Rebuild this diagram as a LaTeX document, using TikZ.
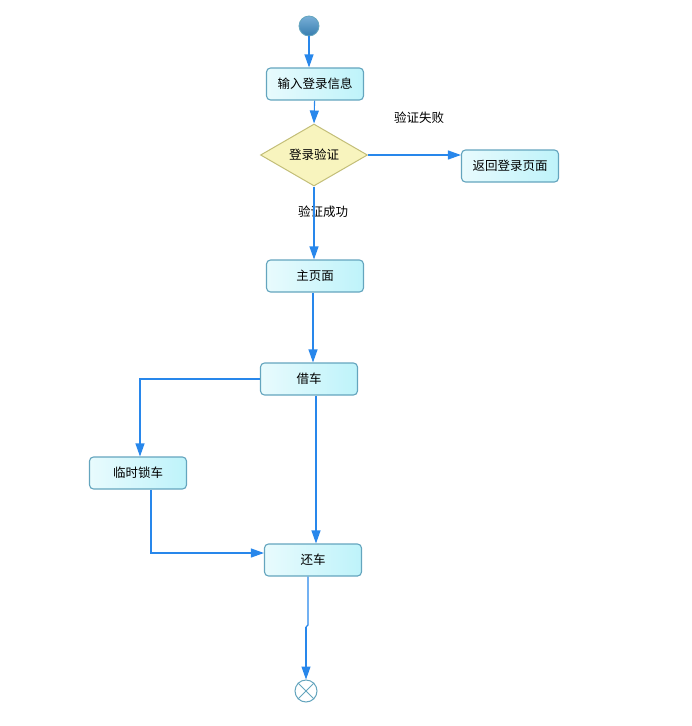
\documentclass[tikz,border=0pt]{standalone}
\usepackage{fontspec}
\setmainfont{Noto Sans CJK SC}
\usetikzlibrary{arrows.meta, shapes.geometric}

\definecolor{flowblue}{RGB}{40,135,235}
\definecolor{boxedge}{RGB}{100,165,190}
\definecolor{boxfill}{RGB}{190,243,250}
\definecolor{diaedge}{RGB}{195,190,120}
\definecolor{diafill}{RGB}{248,244,190}
\definecolor{starttop}{RGB}{120,175,215}
\definecolor{startbot}{RGB}{55,125,175}

\begin{document}
\begin{tikzpicture}[x=1pt, y=-1pt,
  every node/.style={font=\fontsize{12.5}{15}\selectfont},
  actbox/.style={draw=boxedge, line width=1.1pt, rounded corners=4pt,
    left color=boxfill!35, right color=boxfill, minimum width=97pt, minimum height=32pt, inner sep=0pt},
  decbox/.style={diamond, draw=diaedge, line width=1pt, fill=diafill,
    minimum width=107pt, minimum height=62pt, aspect=1.7, inner sep=0pt},
  flow/.style={draw=flowblue, line width=1.1pt, -{Triangle[width=9pt, length=13pt]}},
  flowline/.style={draw=flowblue, line width=1.1pt}]
  \useasboundingbox (0,0) rectangle (692,726);

  % start and end
  \node[circle, draw=boxedge, line width=0.8pt, top color=starttop, bottom color=startbot, minimum size=20pt, inner sep=0pt] (start) at (309,26) {};
  \node[circle, draw=boxedge, line width=1pt, fill=white, minimum size=22pt, inner sep=0pt] (stop) at (306,691) {};
  \draw[boxedge, line width=1pt] (stop.north east) -- (stop.south west);
  \draw[boxedge, line width=1pt] (stop.north west) -- (stop.south east);

  % activities
  \node[actbox] (input) at (315,84) {输入登录信息};
  \node[decbox] (check) at (314,155) {登录验证};
  \node[actbox] (back) at (510,166) {返回登录页面};
  \node[actbox] (home) at (315,276) {主页面};
  \node[actbox] (borrow) at (309,379) {借车};
  \node[actbox] (lock) at (138,473) {临时锁车};
  \node[actbox] (giveback) at (313,560) {还车};

  % guard labels
  \node (failtxt) at (419,118) {验证失败};
  \node (oktxt) at (323,212) {验证成功};

  % transitions
  \draw[flow] (start) -- (start |- input.north);
  \draw[flow] (input) -- (check.north);
  \draw[flow] (check.east) -- (check.east -| back.west);
  \draw[flow] (check.south) -- (check.south |- home.north);
  \draw[flow] ([xshift=-2pt]home.south) -- ([xshift=-2pt]home.south |- borrow.north);
  \draw[flow] (borrow.west) -| ([xshift=2pt]lock.north);
  \draw[flow] ([xshift=7pt]borrow.south) -- ([xshift=7pt]borrow.south |- giveback.north);
  \draw[flow] ([xshift=13pt]lock.south) |- ([yshift=7pt]giveback.west);
  \coordinate (jog) at (308,625);
  \draw[flowline] ([xshift=-5pt]giveback.south) -- (jog) -- (306,627);
  \draw[flow] (306,627) -- (stop.north);
\end{tikzpicture}
\end{document}
